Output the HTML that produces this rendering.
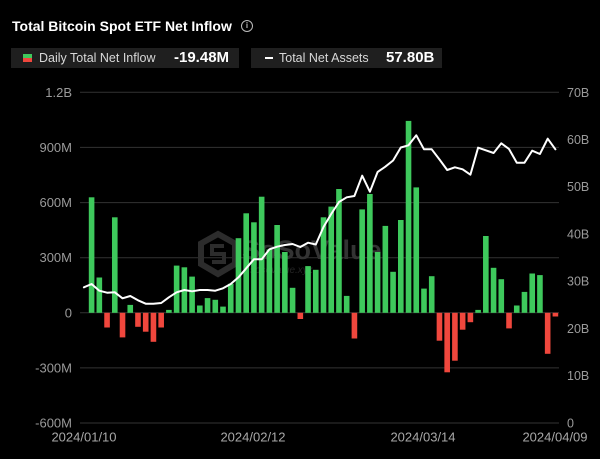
<!DOCTYPE html>
<html>
<head>
<meta charset="utf-8">
<style>
  html,body{margin:0;padding:0;background:#000;}
  body{width:600px;height:459px;overflow:hidden;position:relative;font-family:"Liberation Sans",sans-serif;}
  .title{position:absolute;left:12px;top:17px;color:#fff;font-weight:bold;font-size:14px;line-height:18px;white-space:nowrap;}
  .info{position:absolute;left:241px;top:20px;width:10px;height:10px;border:1px solid #bbb;border-radius:50%;color:#bbb;font-size:8px;line-height:10px;text-align:center;font-weight:bold;}
  .box{position:absolute;top:48px;height:20px;background:#1f1f1f;}
  .lbl{position:absolute;top:0;line-height:20px;font-size:12.5px;color:#d8d8d8;white-space:nowrap;}
  .val{position:absolute;top:0;line-height:20px;font-size:15px;font-weight:bold;color:#fff;white-space:nowrap;}
  svg{position:absolute;left:0;top:0;}
</style>
</head>
<body>
<div class="title">Total Bitcoin Spot ETF Net Inflow</div>
<div class="info">i</div>

<div class="box" style="left:11px;width:228px;">
  <div style="position:absolute;left:12px;top:6px;width:9px;height:4px;background:#3ec95c;"></div>
  <div style="position:absolute;left:12px;top:10px;width:9px;height:4px;background:#f0473d;"></div>
  <div class="lbl" style="left:28px;">Daily Total Net Inflow</div>
  <div class="val" style="left:163px;">-19.48M</div>
</div>
<div class="box" style="left:251px;width:191px;">
  <div style="position:absolute;left:14px;top:9px;width:8px;height:2px;background:#fff;"></div>
  <div class="lbl" style="left:28px;">Total Net Assets</div>
  <div class="val" style="left:135px;">57.80B</div>
</div>

<svg width="600" height="459" viewBox="0 0 600 459" xmlns="http://www.w3.org/2000/svg">
  <g stroke="#333" stroke-width="1">
    <line x1="80" y1="92.3" x2="559" y2="92.3"/>
    <line x1="80" y1="147.4" x2="559" y2="147.4"/>
    <line x1="80" y1="202.6" x2="559" y2="202.6"/>
    <line x1="80" y1="257.7" x2="559" y2="257.7"/>
    <line x1="80" y1="312.8" x2="559" y2="312.8"/>
    <line x1="80" y1="367.9" x2="559" y2="367.9"/>
    <line x1="80" y1="423" x2="559" y2="423"/>
  </g>

  <g fill="#9a9a9a" font-family="Liberation Sans, sans-serif" font-size="13" text-anchor="end">
    <text x="72" y="96.8">1.2B</text>
    <text x="72" y="151.9">900M</text>
    <text x="72" y="207.1">600M</text>
    <text x="72" y="262.2">300M</text>
    <text x="72" y="317.3">0</text>
    <text x="72" y="372.4">-300M</text>
    <text x="72" y="427.5">-600M</text>
  </g>
  <g fill="#9a9a9a" font-family="Liberation Sans, sans-serif" font-size="12.5" text-anchor="start">
    <text x="567" y="96.8">70B</text>
    <text x="567" y="144">60B</text>
    <text x="567" y="191.2">50B</text>
    <text x="567" y="238.5">40B</text>
    <text x="567" y="285.7">30B</text>
    <text x="567" y="333">20B</text>
    <text x="567" y="380.2">10B</text>
    <text x="567" y="427.5">0</text>
  </g>
  <g fill="#a8a8a8" font-family="Liberation Sans, sans-serif" font-size="13" text-anchor="middle">
    <text x="84" y="441.5">2024/01/10</text>
    <text x="253" y="441.5">2024/02/12</text>
    <text x="423" y="441.5">2024/03/14</text>
    <text x="555" y="441.5">2024/04/09</text>
  </g>

  <g>
    <polygon points="218,234 235,243.5 235,264 218,274 201,264 201,243.5" fill="none" stroke="#2c2c2c" stroke-width="6"/>
    <path d="M224,246 L212,246 L212,254 L224,254 L224,262 L212,262" fill="none" stroke="#2c2c2c" stroke-width="4"/>
    <text x="242" y="259" fill="#333" font-family="Liberation Sans, sans-serif" font-size="27" font-weight="bold">SoSoValue</text>
    <text x="250" y="273" fill="#242424" font-family="Liberation Sans, sans-serif" font-size="10" font-style="italic">sosovalue.xyz</text>
  </g>

  <g fill="#3ec95c">
    <rect x="88.80" y="197.3" width="5.6" height="115.5"/>
    <rect x="96.53" y="277.5" width="5.6" height="35.3"/>
    <rect x="111.99" y="217.3" width="5.6" height="95.5"/>
    <rect x="127.45" y="304.9" width="5.6" height="7.9"/>
    <rect x="166.10" y="309.9" width="5.6" height="2.9"/>
    <rect x="173.83" y="265.6" width="5.6" height="47.2"/>
    <rect x="181.56" y="267.3" width="5.6" height="45.5"/>
    <rect x="189.29" y="276.6" width="5.6" height="36.2"/>
    <rect x="197.02" y="305.5" width="5.6" height="7.3"/>
    <rect x="204.75" y="298.1" width="5.6" height="14.7"/>
    <rect x="212.48" y="299.8" width="5.6" height="13.0"/>
    <rect x="220.21" y="306.6" width="5.6" height="6.2"/>
    <rect x="227.94" y="283.8" width="5.6" height="29.0"/>
    <rect x="235.67" y="238.2" width="5.6" height="74.6"/>
    <rect x="243.40" y="213.3" width="5.6" height="99.5"/>
    <rect x="251.13" y="222.3" width="5.6" height="90.5"/>
    <rect x="258.86" y="196.7" width="5.6" height="116.1"/>
    <rect x="266.59" y="249.4" width="5.6" height="63.4"/>
    <rect x="274.32" y="225.0" width="5.6" height="87.8"/>
    <rect x="282.05" y="252.0" width="5.6" height="60.8"/>
    <rect x="289.78" y="287.8" width="5.6" height="25.0"/>
    <rect x="305.24" y="266.1" width="5.6" height="46.7"/>
    <rect x="312.97" y="269.8" width="5.6" height="43.0"/>
    <rect x="320.70" y="217.3" width="5.6" height="95.5"/>
    <rect x="328.43" y="206.6" width="5.6" height="106.2"/>
    <rect x="336.16" y="189.0" width="5.6" height="123.8"/>
    <rect x="343.89" y="295.9" width="5.6" height="16.9"/>
    <rect x="359.35" y="209.4" width="5.6" height="103.4"/>
    <rect x="367.08" y="194.0" width="5.6" height="118.8"/>
    <rect x="374.81" y="252.0" width="5.6" height="60.8"/>
    <rect x="382.54" y="225.9" width="5.6" height="86.9"/>
    <rect x="390.27" y="271.8" width="5.6" height="41.0"/>
    <rect x="398.00" y="220.0" width="5.6" height="92.8"/>
    <rect x="405.73" y="120.9" width="5.6" height="191.9"/>
    <rect x="413.46" y="187.4" width="5.6" height="125.4"/>
    <rect x="421.19" y="288.6" width="5.6" height="24.2"/>
    <rect x="428.92" y="276.2" width="5.6" height="36.6"/>
    <rect x="475.30" y="309.9" width="5.6" height="2.9"/>
    <rect x="483.03" y="236.0" width="5.6" height="76.8"/>
    <rect x="490.76" y="267.8" width="5.6" height="45.0"/>
    <rect x="498.49" y="279.2" width="5.6" height="33.6"/>
    <rect x="513.95" y="305.5" width="5.6" height="7.3"/>
    <rect x="521.68" y="291.9" width="5.6" height="20.9"/>
    <rect x="529.41" y="273.5" width="5.6" height="39.3"/>
    <rect x="537.14" y="275.1" width="5.6" height="37.7"/>
  </g>
  <g fill="#f0473d">
    <rect x="104.26" y="312.8" width="5.6" height="14.7"/>
    <rect x="119.72" y="312.8" width="5.6" height="24.6"/>
    <rect x="135.18" y="312.8" width="5.6" height="14.0"/>
    <rect x="142.91" y="312.8" width="5.6" height="18.9"/>
    <rect x="150.64" y="312.8" width="5.6" height="29.0"/>
    <rect x="158.37" y="312.8" width="5.6" height="14.7"/>
    <rect x="297.51" y="312.8" width="5.6" height="6.2"/>
    <rect x="351.62" y="312.8" width="5.6" height="25.7"/>
    <rect x="436.65" y="312.8" width="5.6" height="27.9"/>
    <rect x="444.38" y="312.8" width="5.6" height="59.5"/>
    <rect x="452.11" y="312.8" width="5.6" height="47.9"/>
    <rect x="459.84" y="312.8" width="5.6" height="16.9"/>
    <rect x="467.57" y="312.8" width="5.6" height="9.4"/>
    <rect x="506.22" y="312.8" width="5.6" height="15.6"/>
    <rect x="544.87" y="312.8" width="5.6" height="41.0"/>
    <rect x="552.60" y="312.8" width="5.6" height="3.7"/>
  </g>

  <polyline fill="none" stroke="#fff" stroke-width="2" stroke-linejoin="round" stroke-linecap="round"
    points="83.9,287.3 91.6,284 99.3,290.7 107.1,292.7 114.8,292.3 122.5,298.3 130.3,296 138.0,300.3 145.7,303.7 153.4,303.7 161.2,303 168.9,297.3 176.6,292.3 184.4,290 192.1,291.3 199.8,290 207.6,290 215.3,290.7 223.0,288.3 230.7,284 238.5,277.3 246.2,268.3 253.9,259.3 261.7,259.3 269.4,249.3 277.1,246.7 284.9,245 292.6,244 300.3,247 308.0,242.7 315.8,244.5 323.5,227 331.2,214 339.0,202 346.7,197.3 354.4,196 362.2,175.7 369.9,191.7 377.6,172 385.3,166.7 393.1,160.5 400.8,147.5 408.5,145.3 416.3,135.3 424.0,149.3 431.7,149.3 439.5,159.5 447.2,170 454.9,167.3 462.6,169.3 470.4,174.7 478.1,147.7 485.8,150.3 493.6,153 501.3,143.3 509.0,149 516.8,162.7 524.5,162.7 532.2,150.7 539.9,154 547.7,138.7 555.4,149.3"/>
</svg>
</body>
</html>
